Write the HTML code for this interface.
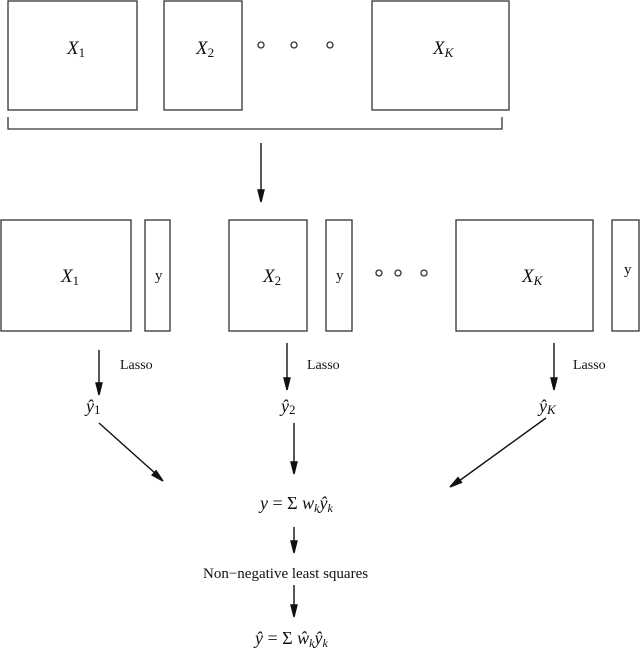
<!DOCTYPE html>
<html><head><meta charset="utf-8"><style>
html,body{margin:0;padding:0;background:#fff;}
svg{display:block;}
.m{font-family:"Liberation Serif",serif;font-style:italic;}
.r{font-family:"Liberation Serif",serif;}
</style></head><body>
<svg width="640" height="649" viewBox="0 0 640 649" xmlns="http://www.w3.org/2000/svg">
<g fill="none" stroke="#333" stroke-width="1.3">
<rect x="8" y="1" width="129" height="109"/>
<rect x="164" y="1" width="78" height="109"/>
<rect x="372" y="1" width="137" height="109"/>
<polyline points="8,117 8,129 502,129 502,117"/>
<rect x="1" y="220" width="130" height="111"/>
<rect x="145" y="220" width="25" height="111"/>
<rect x="229" y="220" width="78" height="111"/>
<rect x="326" y="220" width="26" height="111"/>
<rect x="456" y="220" width="137" height="111"/>
<rect x="612" y="220" width="27" height="111"/>
<circle cx="261" cy="45" r="3"/><circle cx="294" cy="45" r="3"/><circle cx="330" cy="45" r="3"/>
<circle cx="379" cy="273" r="3"/><circle cx="398" cy="273" r="3"/><circle cx="424" cy="273" r="3"/>
</g>
<g stroke="#111" stroke-width="1.4" fill="#111">
<line x1="261" y1="143" x2="261" y2="192"/><polygon points="258,190 264,190 261,202"/>
<line x1="99" y1="350" x2="99" y2="385"/><polygon points="96,383 102,383 99,395"/>
<line x1="287" y1="343" x2="287" y2="380"/><polygon points="284,378 290,378 287,390"/>
<line x1="554" y1="343" x2="554" y2="380"/><polygon points="551,378 557,378 554,390"/>
<line x1="99" y1="423" x2="156" y2="474"/><polygon points="152.1,475.1 156.1,470.7 163,481"/>
<line x1="294" y1="423" x2="294" y2="464"/><polygon points="291,462 297,462 294,474"/>
<line x1="546" y1="418" x2="459" y2="481"/><polygon points="461.5,482.4 458,477.6 450,487"/>
<line x1="294" y1="527" x2="294" y2="543"/><polygon points="291,541 297,541 294,553"/>
<line x1="294" y1="585" x2="294" y2="607"/><polygon points="291,605 297,605 294,617"/>
</g>
<g fill="#111">
<text class="m" x="67" y="54" font-size="19">X<tspan class="r" font-style="normal" font-size="13" dy="3">1</tspan></text>
<text class="m" x="196" y="54" font-size="19">X<tspan class="r" font-style="normal" font-size="13" dy="3">2</tspan></text>
<text class="m" x="433" y="54" font-size="19">X<tspan font-size="13" dy="3">K</tspan></text>
<text class="m" x="61" y="282" font-size="19">X<tspan class="r" font-style="normal" font-size="13" dy="3">1</tspan></text>
<text class="m" x="263" y="282" font-size="19">X<tspan class="r" font-style="normal" font-size="13" dy="3">2</tspan></text>
<text class="m" x="522" y="282" font-size="19">X<tspan font-size="13" dy="3">K</tspan></text>
<text class="r" x="155" y="280" font-size="15">y</text>
<text class="r" x="336" y="280" font-size="15">y</text>
<text class="r" x="624" y="274" font-size="15">y</text>
<text class="r" x="120" y="369" font-size="14">Lasso</text>
<text class="r" x="307" y="369" font-size="14">Lasso</text>
<text class="r" x="573" y="369" font-size="14">Lasso</text>
<text class="m" x="86" y="412" font-size="18">ŷ<tspan class="r" font-style="normal" font-size="13" dy="2">1</tspan></text>
<text class="m" x="281" y="412" font-size="18">ŷ<tspan class="r" font-style="normal" font-size="13" dy="2">2</tspan></text>
<text class="m" x="539" y="412" font-size="18">ŷ<tspan font-size="13" dy="2">K</tspan></text>
<text class="m" x="260" y="509" font-size="18">y <tspan class="r" font-style="normal">=</tspan> <tspan class="r" font-style="normal">Σ</tspan> w<tspan font-size="12" dy="3">k</tspan><tspan dy="-3">ŷ</tspan><tspan font-size="12" dy="3">k</tspan></text>
<text class="r" x="203" y="578" font-size="15">Non−negative least squares</text>
<text class="m" x="255" y="644" font-size="18">ŷ <tspan class="r" font-style="normal">=</tspan> <tspan class="r" font-style="normal">Σ</tspan> ŵ<tspan font-size="12" dy="3">k</tspan><tspan dy="-3">ŷ</tspan><tspan font-size="12" dy="3">k</tspan></text>
</g>
</svg>
</body></html>
